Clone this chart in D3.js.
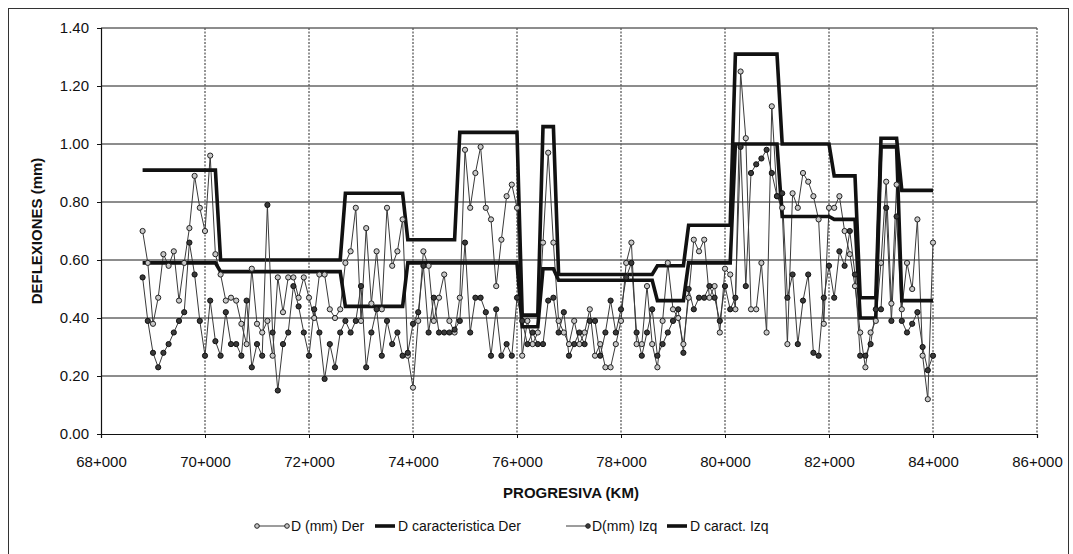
<!DOCTYPE html>
<html>
<head>
<meta charset="utf-8">
<script src="https://cdn.jsdelivr.net/npm/d3@7/dist/d3.min.js"></script>
<style>
  html, body { margin: 0; padding: 0; background: #fff; }
  svg { display: block; font-family: "Liberation Sans", Arial, sans-serif; }
</style>
</head>
<body>
<svg id="chart" width="1073" height="554"></svg>
<script>
// ---------------- DATA ----------------
const stations = [
  68.8,68.9,69.0,69.1,69.2,69.3,69.4,69.5,69.6,69.7,
  69.8,69.9,70.0,70.1,70.2,70.3,70.4,70.5,70.6,70.7,
  70.8,70.9,71.0,71.1,71.2,71.3,71.4,71.5,71.6,71.7,
  71.8,71.9,72.0,72.1,72.2,72.3,72.4,72.5,72.6,72.7,
  72.8,72.9,73.0,73.1,73.2,73.3,73.4,73.5,73.6,73.7,
  73.8,73.9,74.0,74.1,74.2,74.3,74.4,74.5,74.6,74.7,
  74.8,74.9,75.0,75.1,75.2,75.3,75.4,75.5,75.6,75.7,
  75.8,75.9,76.0,76.1,76.2,76.3,76.4,76.5,76.6,76.7,
  76.8,76.9,77.0,77.1,77.2,77.3,77.4,77.5,77.6,77.7,
  77.8,77.9,78.0,78.1,78.2,78.3,78.4,78.5,78.6,78.7,
  78.8,78.9,79.0,79.1,79.2,79.3,79.4,79.5,79.6,79.7,
  79.8,79.9,80.0,80.1,80.2,80.3,80.4,80.5,80.6,80.7,
  80.8,80.9,81.0,81.1,81.2,81.3,81.4,81.5,81.6,81.7,
  81.8,81.9,82.0,82.1,82.2,82.3,82.4,82.5,82.6,82.7,
  82.8,82.9,83.0,83.1,83.2,83.3,83.4,83.5,83.6,83.7,
  83.8,83.9,84.0
];

const dDer = [
  0.70,0.59,0.38,0.47,0.62,0.58,0.63,0.46,0.59,0.71,
  0.89,0.78,0.70,0.96,0.62,0.55,0.46,0.47,0.46,0.38,
  0.31,0.57,0.38,0.35,0.39,0.27,0.54,0.42,0.54,0.54,
  0.47,0.54,0.47,0.40,0.55,0.55,0.43,0.40,0.43,0.59,
  0.63,0.78,0.39,0.71,0.45,0.63,0.43,0.78,0.58,0.63,
  0.74,0.27,0.16,0.39,0.63,0.58,0.39,0.47,0.55,0.39,
  0.35,0.47,0.98,0.78,0.90,0.99,0.78,0.74,0.51,0.67,
  0.82,0.86,0.78,0.27,0.39,0.31,0.35,0.66,0.97,0.66,
  0.39,0.35,0.31,0.39,0.31,0.35,0.43,0.27,0.31,0.23,
  0.23,0.31,0.39,0.59,0.66,0.31,0.31,0.51,0.31,0.23,
  0.39,0.59,0.43,0.40,0.31,0.47,0.67,0.63,0.67,0.47,
  0.51,0.35,0.57,0.55,0.43,1.25,1.02,0.43,0.43,0.59,
  0.35,1.13,0.82,0.78,0.31,0.83,0.78,0.90,0.87,0.82,
  0.74,0.38,0.78,0.78,0.82,0.70,0.62,0.51,0.35,0.23,
  0.35,0.39,0.59,0.87,0.45,0.86,0.43,0.59,0.50,0.74,
  0.27,0.12,0.66
];

const dIzq = [
  0.54,0.39,0.28,0.23,0.28,0.31,0.35,0.39,0.42,0.66,
  0.55,0.39,0.27,0.46,0.32,0.27,0.42,0.31,0.31,0.27,
  0.46,0.23,0.31,0.27,0.79,0.35,0.15,0.31,0.35,0.51,
  0.44,0.35,0.27,0.43,0.35,0.19,0.31,0.23,0.35,0.39,
  0.35,0.39,0.51,0.23,0.35,0.43,0.27,0.39,0.31,0.35,
  0.27,0.28,0.38,0.42,0.58,0.35,0.47,0.35,0.35,0.35,
  0.36,0.39,0.66,0.35,0.47,0.47,0.42,0.27,0.43,0.27,
  0.31,0.27,0.47,0.39,0.31,0.35,0.31,0.31,0.46,0.47,
  0.35,0.42,0.27,0.31,0.35,0.31,0.39,0.39,0.27,0.35,
  0.46,0.35,0.43,0.54,0.59,0.35,0.27,0.35,0.43,0.27,
  0.31,0.35,0.39,0.43,0.28,0.50,0.43,0.47,0.47,0.51,
  0.47,0.39,0.51,0.43,0.47,0.99,0.51,0.90,0.93,0.95,
  0.98,0.90,0.82,0.83,0.47,0.55,0.31,0.46,0.55,0.28,
  0.27,0.47,0.58,0.47,0.63,0.58,0.70,0.55,0.27,0.27,
  0.31,0.43,0.43,0.78,0.39,0.75,0.39,0.35,0.38,0.42,
  0.30,0.22,0.27
];

// Characteristic deflection (step series): breakpoints
const derCarKm  = [68.8,70.2,70.3,72.6,72.7,73.8,73.9,74.8,74.9,76.0,76.1,76.4,76.5,76.7,76.8,78.6,78.7,79.2,79.3,80.1,80.2,81.0,81.1,82.0,82.1,82.5,82.6,82.9,83.0,83.3,83.4,84.0];
const derCarVal = [0.91,0.91,0.60,0.60,0.83,0.83,0.67,0.67,1.04,1.04,0.41,0.41,1.06,1.06,0.55,0.55,0.58,0.58,0.72,0.72,1.31,1.31,1.00,1.00,0.89,0.89,0.47,0.47,1.02,1.02,0.84,0.84];

const izqCarKm  = [68.8,70.2,70.3,72.6,72.7,73.8,73.9,76.0,76.1,76.4,76.5,76.7,76.8,78.6,78.7,79.2,79.3,80.1,80.2,81.0,81.1,82.0,82.1,82.5,82.6,82.9,83.0,83.3,83.4,84.0];
const izqCarVal = [0.59,0.59,0.56,0.56,0.44,0.44,0.59,0.59,0.37,0.37,0.57,0.57,0.53,0.53,0.46,0.46,0.59,0.59,1.00,1.00,0.75,0.75,0.74,0.74,0.40,0.40,0.99,0.99,0.46,0.46];

const xTickValues = [68,70,72,74,76,78,80,82,84,86];
const xTickLabels = ["68+000","70+000","72+000","74+000","76+000","78+000","80+000","82+000","84+000","86+000"];
const yTickValues = [0,0.2,0.4,0.6,0.8,1.0,1.2,1.4];
const yTickLabels = ["0.00","0.20","0.40","0.60","0.80","1.00","1.20","1.40"];

const legendLabels = ["D (mm) Der","D caracteristica Der","D(mm) Izq","D caract. Izq"];

// ---------------- LAYOUT ----------------
const svg = d3.select("#chart");
const L = 101, R = 1037, T = 28, B = 434;

const x = d3.scaleLinear().domain([68, 86]).range([L, R]);
const y = d3.scaleLinear().domain([0, 1.4]).range([B, T]);

// outer frame
svg.append("rect")
  .attr("x", 8.5).attr("y", 8.5)
  .attr("width", 1060).attr("height", 560)
  .attr("fill", "none").attr("stroke", "#333").attr("stroke-width", 1);

// horizontal gridlines
svg.append("g")
  .selectAll("line").data(yTickValues.filter(v => v > 0)).join("line")
  .attr("x1", L).attr("x2", R)
  .attr("y1", d => y(d)).attr("y2", d => y(d))
  .attr("stroke", "#1a1a1a").attr("stroke-width", 1);

// vertical gridlines (dotted)
svg.append("g")
  .selectAll("line").data(xTickValues.filter(v => v > 68)).join("line")
  .attr("x1", d => x(d)).attr("x2", d => x(d))
  .attr("y1", T).attr("y2", B)
  .attr("stroke", "#5a5a5a").attr("stroke-width", 1.3)
  .attr("stroke-dasharray", "2,1.5");

// axes
const yAxis = d3.axisLeft(y)
  .tickValues(yTickValues)
  .tickFormat((d, i) => yTickLabels[i])
  .tickSize(4).tickPadding(8);
const gy = svg.append("g").attr("transform", `translate(${L},0)`).call(yAxis);
gy.select(".domain").attr("stroke", "#111").attr("stroke-width", 1.2);
gy.selectAll(".tick line").attr("stroke", "#111");
gy.selectAll(".tick text").attr("font-size", 15).attr("fill", "#111")
  .attr("font-family", "'Liberation Sans', Arial, sans-serif");

const xAxis = d3.axisBottom(x)
  .tickValues(xTickValues)
  .tickFormat((d, i) => xTickLabels[i])
  .tickSize(4).tickPadding(18);
const gx = svg.append("g").attr("transform", `translate(0,${B})`).call(xAxis);
gx.select(".domain").attr("stroke", "#111").attr("stroke-width", 1.2);
gx.selectAll(".tick line").attr("stroke", "#111");
gx.selectAll(".tick text").attr("font-size", 15).attr("fill", "#111")
  .attr("font-family", "'Liberation Sans', Arial, sans-serif");

// axis titles
svg.append("text")
  .attr("x", (L + R) / 2 + 2).attr("y", 498)
  .attr("text-anchor", "middle")
  .attr("font-size", 15).attr("font-weight", "bold").attr("fill", "#111")
  .text("PROGRESIVA (KM)");

svg.append("text")
  .attr("transform", `translate(42,${(T + B) / 2}) rotate(-90)`)
  .attr("text-anchor", "middle")
  .attr("font-size", 15).attr("font-weight", "bold").attr("fill", "#111")
  .text("DEFLEXIONES (mm)");

// ---------------- SERIES ----------------
const ptsDer = stations.map((k, i) => [k, dDer[i]]);
const ptsIzq = stations.map((k, i) => [k, dIzq[i]]);
const carDer = derCarKm.map((k, i) => [k, derCarVal[i]]);
const carIzq = izqCarKm.map((k, i) => [k, izqCarVal[i]]);

const line = d3.line().x(d => x(d[0])).y(d => y(d[1]));

const plot = svg.append("g");

plot.append("path").datum(ptsDer)
  .attr("d", line).attr("fill", "none")
  .attr("stroke", "#3a3a3a").attr("stroke-width", 1);
plot.append("path").datum(carDer)
  .attr("d", line).attr("fill", "none")
  .attr("stroke", "#111").attr("stroke-width", 3.6)
  .attr("stroke-linejoin", "miter");
plot.append("path").datum(ptsIzq)
  .attr("d", line).attr("fill", "none")
  .attr("stroke", "#3a3a3a").attr("stroke-width", 1);
plot.append("path").datum(carIzq)
  .attr("d", line).attr("fill", "none")
  .attr("stroke", "#111").attr("stroke-width", 3.6)
  .attr("stroke-linejoin", "miter");

plot.append("g").selectAll("circle").data(ptsDer).join("circle")
  .attr("cx", d => x(d[0])).attr("cy", d => y(d[1])).attr("r", 2.6)
  .attr("fill", "#c8c8c8").attr("stroke", "#222").attr("stroke-width", 1);
plot.append("g").selectAll("circle").data(ptsIzq).join("circle")
  .attr("cx", d => x(d[0])).attr("cy", d => y(d[1])).attr("r", 2.6)
  .attr("fill", "#3a3a3a").attr("stroke", "#111").attr("stroke-width", 1);

// ---------------- LEGEND ----------------
const legY = 526;
const leg = svg.append("g").attr("font-size", 14).attr("fill", "#111");
const legItems = [
  {x1: 257, x2: 287, tx: 291, thick: false, m1: true,  m2: true,  fill: "#c8c8c8"},
  {x1: 375, x2: 395, tx: 398, thick: true},
  {x1: 566, x2: 588, tx: 592, thick: false, m1: false, m2: true,  fill: "#3a3a3a"},
  {x1: 667, x2: 687, tx: 690, thick: true}
];
legItems.forEach((it, i) => {
  leg.append("line")
    .attr("x1", it.x1).attr("x2", it.x2).attr("y1", legY).attr("y2", legY)
    .attr("stroke", it.thick ? "#111" : "#3a3a3a")
    .attr("stroke-width", it.thick ? 3.6 : 1);
  if (it.m1) leg.append("circle").attr("cx", it.x1).attr("cy", legY).attr("r", 2.3)
    .attr("fill", it.fill).attr("stroke", "#222");
  if (it.m2) leg.append("circle").attr("cx", it.x2).attr("cy", legY).attr("r", 2.3)
    .attr("fill", it.fill).attr("stroke", "#222");
  leg.append("text").attr("x", it.tx).attr("y", legY + 5).text(legendLabels[i]);
});
</script>
</body>
</html>
